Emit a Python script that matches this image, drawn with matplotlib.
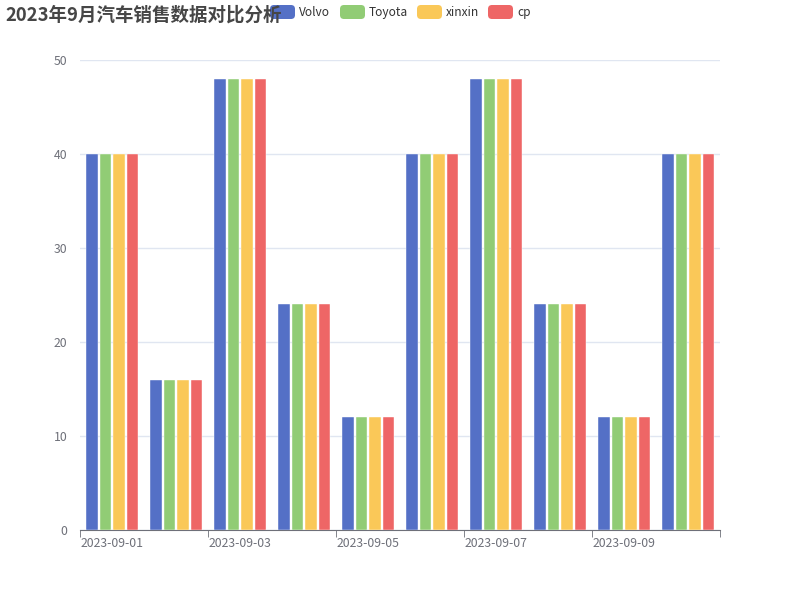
import numpy as np
import matplotlib
matplotlib.use("Agg")
import matplotlib.pyplot as plt
from matplotlib.patches import FancyBboxPatch

plt.rcParams['font.family'] = ['Noto Sans CJK SC', 'DejaVu Sans']

dates = ["2023-09-01", "2023-09-02", "2023-09-03", "2023-09-04", "2023-09-05",
         "2023-09-06", "2023-09-07", "2023-09-08", "2023-09-09", "2023-09-10"]
volvo = [40, 16, 48, 24, 12, 40, 48, 24, 12, 40]
toyota = [40, 16, 48, 24, 12, 40, 48, 24, 12, 40]
xinxin = [40, 16, 48, 24, 12, 40, 48, 24, 12, 40]
cp = [40, 16, 48, 24, 12, 40, 48, 24, 12, 40]
names = ["Volvo", "Toyota", "xinxin", "cp"]
colors = ["#5470c6", "#91cc75", "#fac858", "#ee6666"]
title = "2023年9月汽车销售数据对比分析"

fig = plt.figure(figsize=(8, 6), dpi=100)
ax = fig.add_axes([80 / 800, 70 / 600, 640 / 800, 470 / 600])

x = np.arange(len(dates))
w = 11.5 / 64
step = 13.5 / 64
for i, (vals, c) in enumerate(zip([volvo, toyota, xinxin, cp], colors)):
    ax.bar(x + (i - 1.5) * step, vals, width=w, color=c, edgecolor="white", linewidth=0.3, zorder=3)

ax.set_xlim(-0.5, len(dates) - 0.5)
ax.set_ylim(0, 50)
ax.set_yticks(range(0, 51, 10))
ax.yaxis.grid(True, color="#E0E6F1", linewidth=1)
ax.set_axisbelow(True)
for s in ["top", "right", "left"]:
    ax.spines[s].set_visible(False)
ax.spines["bottom"].set_color("#6E7079")
ax.tick_params(axis="y", length=0, labelcolor="#6E7079", labelsize=8.8, pad=9)
ax.set_xticks(x[::2])
ax.set_xticklabels(dates[::2])
ax.set_xticks(np.arange(-0.5, len(dates), 2), minor=True)
ax.tick_params(axis="x", which="major", length=0, labelcolor="#6E7079", labelsize=8.8, pad=5)
ax.tick_params(axis="x", which="minor", length=5, color="#6E7079")

# title and legend drawn in pixel space
ov = fig.add_axes([0, 0, 1, 1])
ov.set_xlim(0, 800)
ov.set_ylim(600, 0)
ov.axis("off")
ov.text(5, 15, title, fontsize=13.3, fontweight="bold", color="#464646", va="center", ha="left")
lx = [270, 340, 417, 488]
for name, c, x0 in zip(names, colors, lx):
    ov.add_patch(FancyBboxPatch((x0 + 2, 7), 21, 10, boxstyle="round,pad=2,rounding_size=4",
                                facecolor=c, edgecolor="none"))
    ov.text(x0 + 29, 12.5, name, fontsize=8.6, color="#333333", va="center", ha="left")

fig.savefig("out.png", dpi=100)
